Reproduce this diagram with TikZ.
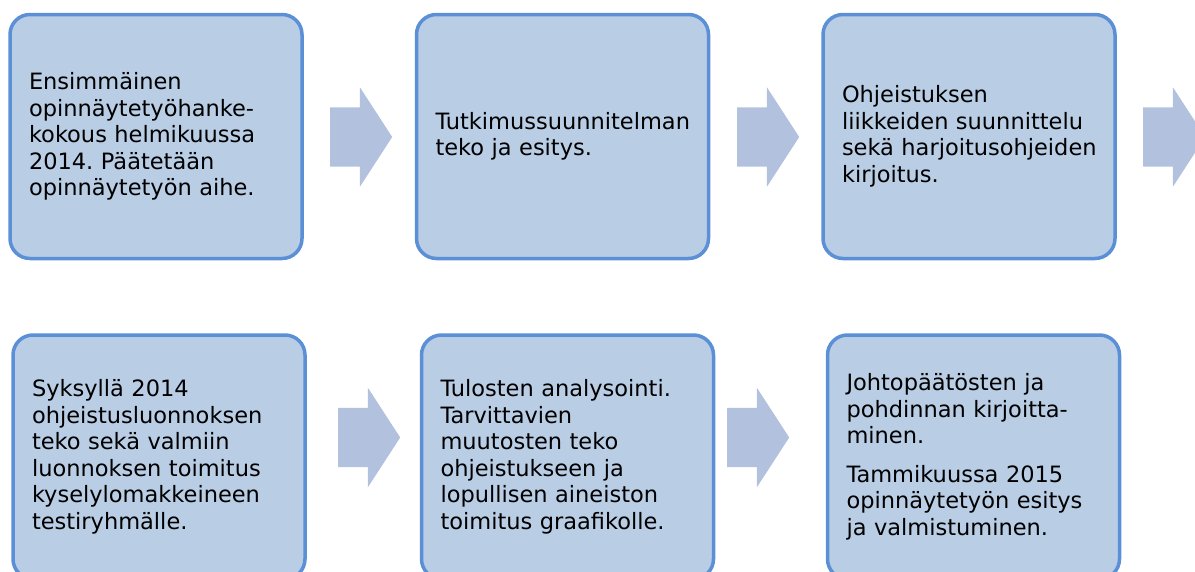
\documentclass[tikz,border=0pt]{standalone}
\usepackage{fontspec}
\setmainfont{DejaVu Sans}
\usetikzlibrary{shapes.arrows}
\definecolor{boxfill}{HTML}{B9CDE5}
\definecolor{boxline}{HTML}{5B8FD6}
\definecolor{arrfill}{HTML}{B1C1DE}
\frenchspacing
\hyphenpenalty=10000
\tikzset{
  phase/.style={rectangle, draw=boxline, fill=boxfill, line width=3.5pt, rounded corners=20pt, minimum width=292pt, minimum height=244pt, text width=254pt, inner xsep=19pt, inner ysep=0pt, align=left, font=\fontsize{22.5}{26.5}\selectfont},
  flow/.style={single arrow, fill=arrfill, draw=none, anchor=tail, minimum height=62pt, minimum width=99pt, single arrow head extend=20pt, single arrow tip angle=114, inner xsep=0pt, inner ysep=29.5pt}
}
\begin{document}
\begin{tikzpicture}[x=1pt, y=-1pt]
    \clip (0,0) rectangle (1195,571);
    % First row
    \node[phase] (b1) at (156, 136.5) {Ensimmäinen\\opinnäytetyöhanke-\\kokous helmikuussa\\2014. Päätetään\\opinnäytetyön aihe.};
    \node[phase] (b2) at (562.5, 136.5) {Tutkimussuunnitelman\\teko ja esitys.};
    \node[phase] (b3) at (969, 136.5) {Ohjeistuksen\\liikkeiden suunnittelu\\\mbox{sekä harjoitusohjeiden}\\kirjoitus.};
    
    % Second row
    \node[phase] (b4) at (159, 457) {Syksyllä 2014\\ohjeistusluonnoksen\\teko sekä valmiin\\luonnoksen toimitus\\kyselylomakkeineen\\testiryhmälle.};
    \node[phase] (b5) at (567.5, 457) {Tulosten analysointi.\\Tarvittavien\\muutosten teko\\ohjeistukseen ja\\lopullisen aineiston\\toimitus graafikolle.};
    \node[phase] (b6) at (973.5, 457) {Johtopäätösten ja\\pohdinnan kirjoitta-\\minen.\\[12pt]Tammikuussa 2015\\opinnäytetyön esitys\\ja valmistuminen.};
    
    % Block arrows between the phases (placed by their tails)
    \node[flow] (a1) at (330, 137) {};
    \node[flow] (a2) at (737, 137) {};
    \node[flow] (a3) at (1143, 137) {};
    \node[flow] (a4) at (338, 437.5) {};
    \node[flow] (a5) at (727, 437.5) {};
\end{tikzpicture}
\end{document}
